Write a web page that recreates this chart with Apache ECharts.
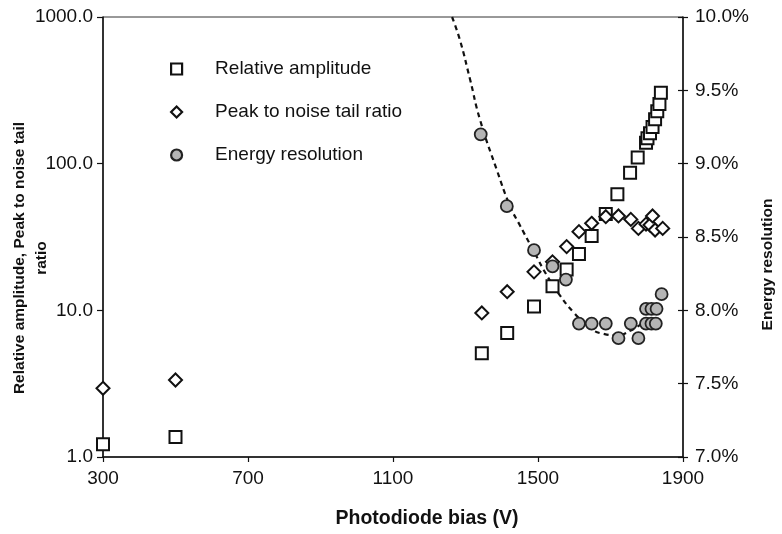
<!DOCTYPE html>
<html>
<head>
<meta charset="utf-8">
<script src="https://cdn.jsdelivr.net/npm/echarts@6/dist/echarts.min.js"></script>
<style>
html,body{margin:0;padding:0;background:#fff;}
#chart{width:782px;height:534px;}
</style>
</head>
<body>
<div id="chart"></div>
<script>
// X axis tick values (V)
const xTicks = [300, 700, 1100, 1500, 1900];

// Relative amplitude (left log axis)
const biasAmp = [300, 500, 1345, 1415, 1489, 1540, 1579, 1613, 1648, 1687, 1719, 1754, 1775, 1798, 1802, 1809, 1816, 1823, 1829, 1835, 1839];
const relAmp  = [1.22, 1.37, 5.1, 7.0, 10.6, 14.6, 19.0, 24.2, 32.1, 45.4, 61.8, 86.7, 110, 139, 149, 161, 178, 201, 228, 255, 304];

// Peak to noise tail ratio (left log axis)
const biasPnt = [300, 500, 1345, 1415, 1489, 1540, 1579, 1613, 1648, 1687, 1722, 1756, 1777, 1798, 1809, 1816, 1823, 1844];
const pnt     = [2.94, 3.35, 9.6, 13.4, 18.3, 21.4, 27.2, 34.4, 39.2, 43.5, 44.0, 41.7, 36.2, 38.7, 38.2, 44.0, 35.3, 36.2];

// Energy resolution (%) (right axis)
const biasRes = [1342, 1414, 1489, 1540, 1577, 1613, 1648, 1687, 1722, 1756, 1777, 1798, 1798, 1813, 1813, 1827, 1825, 1841];
const res     = [9.20, 8.71, 8.41, 8.30, 8.21, 7.91, 7.91, 7.91, 7.81, 7.91, 7.81, 8.01, 7.91, 8.01, 7.91, 8.01, 7.91, 8.11];

// Trend line of energy resolution (%)
const trendV = [1263, 1285, 1312, 1340, 1386, 1423, 1450, 1489, 1524, 1561, 1597, 1643, 1680, 1717, 1754, 1786];
const trendR = [10.0, 9.84, 9.58, 9.30, 8.96, 8.71, 8.58, 8.40, 8.24, 8.10, 7.99, 7.88, 7.84, 7.83, 7.86, 7.91];

const zip = (a, b) => a.map((v, i) => [v, b[i]]);

const FONT = '"Liberation Sans", Arial, Helvetica, sans-serif';
const labelStyle = { color: '#111', fontSize: 19, fontFamily: FONT };
const vTitleStyle = { color: '#111', fontSize: 15.5, fontWeight: 'bold', fontFamily: FONT, lineHeight: 22 };
const axisLine = { show: true, lineStyle: { color: '#111', width: 1.5 } };

const chart = echarts.init(document.getElementById('chart'), null, { renderer: 'canvas' });
chart.setOption({
  animation: false,
  backgroundColor: '#fff',
  grid: { left: 103, right: 99, top: 17, bottom: 77, show: true, borderColor: '#333', borderWidth: 1, outerBoundsMode: 'none', containLabel: false },
  legend: {
    orient: 'vertical',
    left: 165,
    top: 53,
    itemWidth: 11,
    itemHeight: 11,
    itemGap: 21,
    itemStyle: { borderWidth: 2.2 },
    textStyle: { color: '#111', fontSize: 19, fontFamily: FONT, lineHeight: 22, padding: [0, 0, 0, 28] },
    data: ['Relative amplitude', 'Peak to noise tail ratio', 'Energy resolution']
  },
  xAxis: {
    type: 'value',
    min: 300, max: 1900,
    axisLine: axisLine,
    axisTick: { show: true, length: 5, customValues: xTicks, lineStyle: { color: '#111', width: 1.2 } },
    axisLabel: Object.assign({ margin: 12, customValues: xTicks, formatter: v => String(v) }, labelStyle),
    splitLine: { show: false },
    name: 'Photodiode bias (V)',
    nameLocation: 'middle',
    nameGap: 52,
    nameMoveOverlap: false,
    nameTextStyle: { color: '#111', fontSize: 19.5, fontWeight: 'bold', fontFamily: FONT, padding: [0, 0, 0, 68] }
  },
  yAxis: [
    {
      type: 'log', logBase: 10, min: 1, max: 1000,
      position: 'left',
      axisLine: axisLine,
      axisTick: { show: true, length: 6, lineStyle: { color: '#111', width: 1.2 } },
      minorTick: { show: false },
      axisLabel: Object.assign({ margin: 10, formatter: v => Number(v).toFixed(1) }, labelStyle),
      splitLine: { show: false },
      name: 'Relative amplitude, Peak to noise tail\nratio',
      nameLocation: 'middle',
      nameRotate: 90,
      nameGap: 50,
      nameMoveOverlap: false,
      nameTextStyle: Object.assign({ padding: [0, 42, 0, 0] }, vTitleStyle)
    },
    {
      type: 'value', min: 7, max: 10, interval: 0.5,
      position: 'right',
      axisLine: axisLine,
      axisTick: { show: true, length: 5, lineStyle: { color: '#111', width: 1.2 } },
      axisLabel: Object.assign({ margin: 12, formatter: v => v.toFixed(1) + '%' }, labelStyle),
      splitLine: { show: false },
      name: 'Energy resolution',
      nameLocation: 'middle',
      nameRotate: 90,
      nameGap: 74,
      nameMoveOverlap: false,
      nameTextStyle: Object.assign({ padding: [0, 55, 0, 0] }, vTitleStyle)
    },
    {
      type: 'value', min: 7, max: 10, interval: 0.5,
      position: 'right',
      axisLine: { show: false },
      axisTick: { show: true, inside: true, length: 5, lineStyle: { color: '#111', width: 1.2 } },
      axisLabel: { show: false },
      splitLine: { show: false }
    }
  ],
  series: [
    {
      name: 'trend',
      type: 'line',
      yAxisIndex: 1,
      data: zip(trendV, trendR),
      smooth: true,
      showSymbol: false,
      symbol: 'none',
      lineStyle: { color: '#111', width: 2.2, type: [5, 4] },
      z: 1,
      clip: true
    },
    {
      name: 'Relative amplitude',
      type: 'scatter',
      yAxisIndex: 0,
      data: zip(biasAmp, relAmp),
      symbol: 'rect',
      symbolSize: 12,
      itemStyle: { color: '#fff', borderColor: '#111', borderWidth: 2, opacity: 1 },
      z: 3
    },
    {
      name: 'Peak to noise tail ratio',
      type: 'scatter',
      yAxisIndex: 0,
      data: zip(biasPnt, pnt),
      symbol: 'diamond',
      symbolSize: 13,
      itemStyle: { color: '#fff', borderColor: '#111', borderWidth: 2, opacity: 1 },
      z: 4
    },
    {
      name: 'Energy resolution',
      type: 'scatter',
      yAxisIndex: 1,
      data: zip(biasRes, res),
      symbol: 'circle',
      symbolSize: 12,
      itemStyle: { color: '#b5b5b5', borderColor: '#222', borderWidth: 1.8, opacity: 1 },
      z: 5
    }
  ]
});
</script>
</body>
</html>
